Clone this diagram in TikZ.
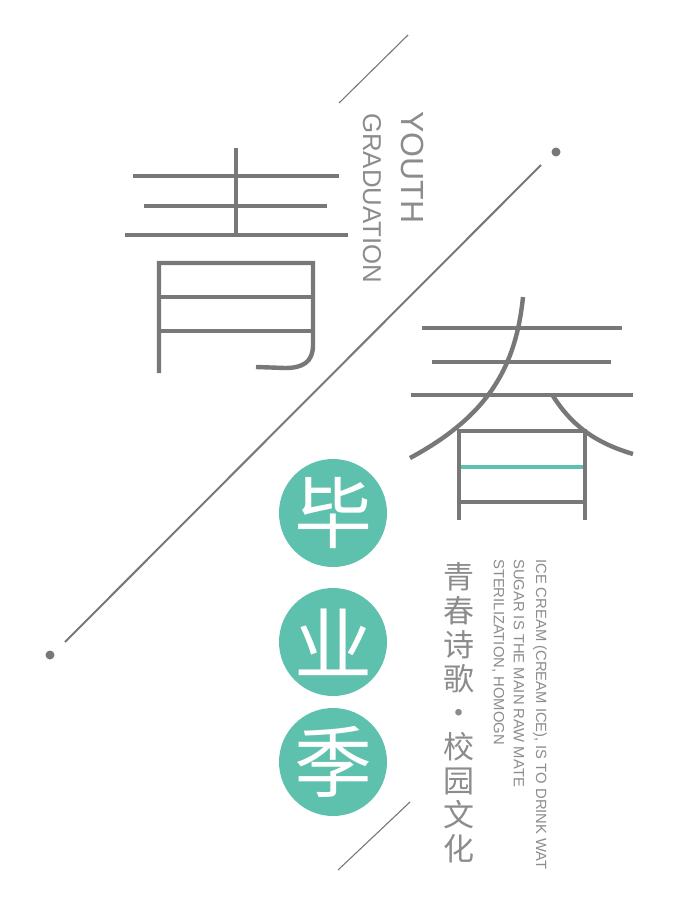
\documentclass[tikz,border=0pt]{standalone}
\usepackage{fontspec}
\setmainfont{Liberation Sans}
\newfontfamily\cjk{Noto Sans CJK SC}
\colorlet{StrokeGray}{black!53}
\colorlet{TextGray}{black!45}
\definecolor{SealTeal}{HTML}{5EC1AE}
\tikzset{
    big stroke/.style={draw=StrokeGray, line width=4.4pt},
    thin rule/.style={draw=StrokeGray, line width=1.1pt},
    end dot/.style={circle, fill=StrokeGray, inner sep=0pt, minimum size=9pt},
    seal/.style={circle, fill=SealTeal, text=white, inner sep=0pt, minimum size=108pt, font=\cjk\fontsize{78}{78}\selectfont},
    side text/.style={rotate=-90, anchor=west, inner sep=0pt, text=TextGray},
}
\begin{document}
\begin{tikzpicture}[x=1pt, y=-1pt]
    \useasboundingbox[fill=white] (0,0) rectangle (700,904);

    \coordinate (TopRuleA) at (408,35);
    \coordinate (TopRuleB) at (339,103);
    \coordinate (BottomRuleA) at (410,802);
    \coordinate (BottomRuleB) at (338,870);
    \draw[thin rule] (TopRuleA) -- (TopRuleB);
    \draw[thin rule] (BottomRuleA) -- (BottomRuleB);

    \node[end dot] (DotTop) at (556,152) {};
    \node[end dot] (DotBottom) at (50,655) {};
    \coordinate (MainA) at (541,165);
    \coordinate (MainB) at (65,642);
    \draw[draw=StrokeGray, line width=2pt] (MainA) -- (MainB);

    % qing
    \draw[big stroke] (236,148) -- (236,233);
    \draw[big stroke] (133,176) -- (339,176);
    \draw[big stroke] (144,206) -- (327,206);
    \draw[big stroke] (125,235) -- (348,235);
    \draw[big stroke] (159,373) -- (159,263) -- (313,263) -- (313,345)
        .. controls (313,362) and (303,368) .. (285,368) -- (256,367);
    \draw[big stroke] (159,297) -- (313,297);
    \draw[big stroke] (159,331) -- (313,331);

    % chun
    \draw[big stroke] (422,328) -- (622,328);
    \draw[big stroke] (432,362) -- (611,362);
    \draw[big stroke] (411,395) -- (633,395);
    \draw[big stroke] (523,297) .. controls (516,365) and (490,415) .. (410,458);
    \draw[big stroke] (553,396) .. controls (572,426) and (596,443) .. (633,454);
    \draw[big stroke] (459,520) -- (459,431) -- (585,431) -- (585,520);
    \draw[big stroke] (459,502) -- (585,502);
    \draw[draw=SealTeal, line width=4.4pt] (461,467) -- (583,467);

    \node[seal] (SealBi) at (333,513) {毕};
    \node[seal] (SealYe) at (333,642) {业};
    \node[seal] (SealJi) at (333,762) {季};

    \node[side text, font=\fontsize{32}{32}\selectfont] (Youth) at (413,111) {YOUTH};
    \node[side text, font=\fontsize{25.8}{25.8}\selectfont] (Graduation) at (372,113) {GRADUATION};

    \node[text=TextGray, align=center, inner sep=0pt, anchor=north, font=\cjk\fontsize{31}{34}\selectfont] (Poem) at (459,562)
        {青\\春\\诗\\歌\\·\\校\\园\\文\\化};

    \node[side text, font=\fontsize{14.8}{14.8}\selectfont] (LineOne) at (540,559) {ICE CREAM (CREAM ICE), IS TO DRINK WAT};
    \node[side text, font=\fontsize{14.8}{14.8}\selectfont] (LineTwo) at (519,559) {SUGAR IS THE MAIN RAW MATE};
    \node[side text, font=\fontsize{14.8}{14.8}\selectfont] (LineThree) at (498,559) {STERILIZATION, HOMOGN};
\end{tikzpicture}
\end{document}
